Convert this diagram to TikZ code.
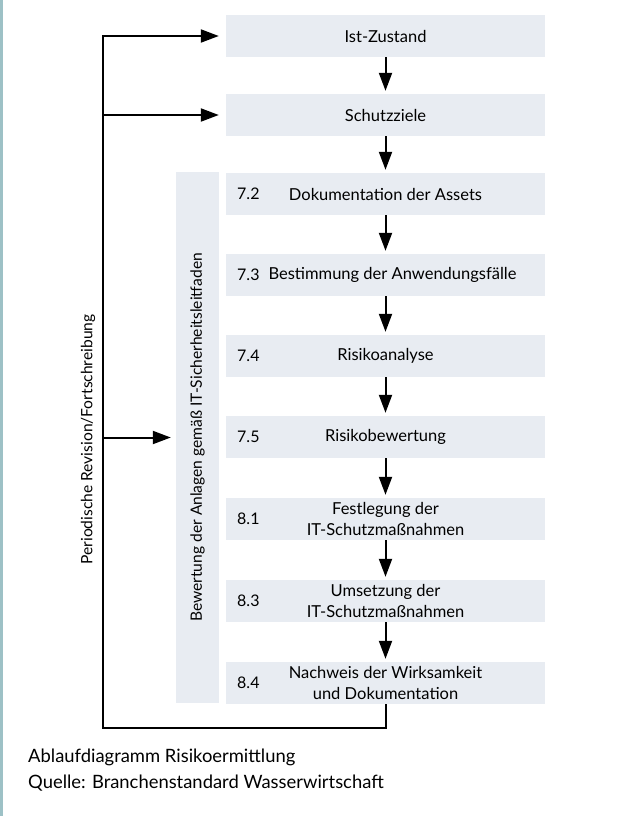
\documentclass[tikz,border=0pt]{standalone}
\usepackage{fontspec}
\setmainfont{Lato}
\usetikzlibrary{arrows.meta}
\definecolor{boxfill}{HTML}{E8ECF2}
\definecolor{stripcol}{HTML}{9DC1C6}
\tikzset{
  stepbox/.style={fill=boxfill, minimum width=319bp, minimum height=42bp, inner sep=0pt, align=center, font=\fontsize{16.5bp}{21bp}\selectfont},
  numlabel/.style={anchor=west, inner sep=0pt, font=\fontsize{16bp}{19bp}\selectfont},
  sidebox/.style={fill=boxfill, minimum width=43bp, minimum height=531bp, inner sep=0pt},
  rottext/.style={rotate=90, inner sep=0pt, font=\fontsize{15.6bp}{18bp}\selectfont},
  captext/.style={anchor=west, inner sep=0pt, font=\fontsize{18.4bp}{21bp}\selectfont},
  flow/.style={line width=2bp, -{Triangle[length=18bp,width=13bp]}},
}
\begin{document}
\begin{tikzpicture}[x=1bp,y=-1bp]
\useasboundingbox (0,0) rectangle (630,816);
\fill[stripcol] (0,0) rectangle (2.5,816);

\node[stepbox] (ist) at (385.5,36) {Ist-Zustand};
\node[stepbox] (schutz) at (385.5,115) {Schutzziele};
\node[sidebox] (side) at (197.5,437.5) {};
\node[rottext] (sidetext) at (side.center) {Bewertung der Anlagen gemäß IT-Sicherheitsleitfaden};
\node[stepbox] (n72) at (385.5,194) {Dokumentation der Assets};
\node[stepbox] (n73) at (385.5,275) {\hspace*{14bp}Bestimmung der Anwendungsfälle};
\node[stepbox] (n74) at (385.5,356) {Risikoanalyse};
\node[stepbox] (n75) at (385.5,437) {Risikobewertung};
\node[stepbox] (n81) at (385.5,519) {Festlegung der\\IT-Schutzmaßnahmen};
\node[stepbox] (n83) at (385.5,601) {Umsetzung der\\IT-Schutzmaßnahmen};
\node[stepbox] (n84) at (385.5,683) {Nachweis der Wirksamkeit\\und Dokumentation};

\node[numlabel] (l72) at (237,194) {7.2};
\node[numlabel] (l73) at (237,275) {7.3};
\node[numlabel] (l74) at (237,356) {7.4};
\node[numlabel] (l75) at (237,437) {7.5};
\node[numlabel] (l81) at (237,519) {8.1};
\node[numlabel] (l83) at (237,601) {8.3};
\node[numlabel] (l84) at (237,683) {8.4};

\draw[flow, shorten >=3bp] (ist.south) -- (schutz.north);
\draw[flow, shorten >=3bp] (schutz.south) -- (n72.north);
\draw[flow, shorten >=3bp] (n72.south) -- (n73.north);
\draw[flow, shorten >=3bp] (n73.south) -- (n74.north);
\draw[flow, shorten >=3bp] (n74.south) -- (n75.north);
\draw[flow, shorten >=3bp] (n75.south) -- (n81.north);
\draw[flow, shorten >=3bp] (n81.south) -- (n83.north);
\draw[flow, shorten >=3bp] (n83.south) -- (n84.north);

\coordinate (loopbl) at (103,728);
\draw[flow, shorten >=7bp] (n84.south) |- (loopbl) |- (ist.west);
\draw[flow, shorten >=7bp] (loopbl |- schutz.west) -- (schutz.west);
\draw[flow, shorten >=5bp] (loopbl |- side.west) -- (side.west);

\node[rottext] (revtext) at (88,439.5) {Periodische Revision/Fortschreibung};

\node[captext] (cap1) at (28,757) {Ablaufdiagramm Risikoermittlung};
\node[captext] (cap2) at (28,783) {Quelle: Branchenstandard Wasserwirtschaft};
\end{tikzpicture}
\end{document}
